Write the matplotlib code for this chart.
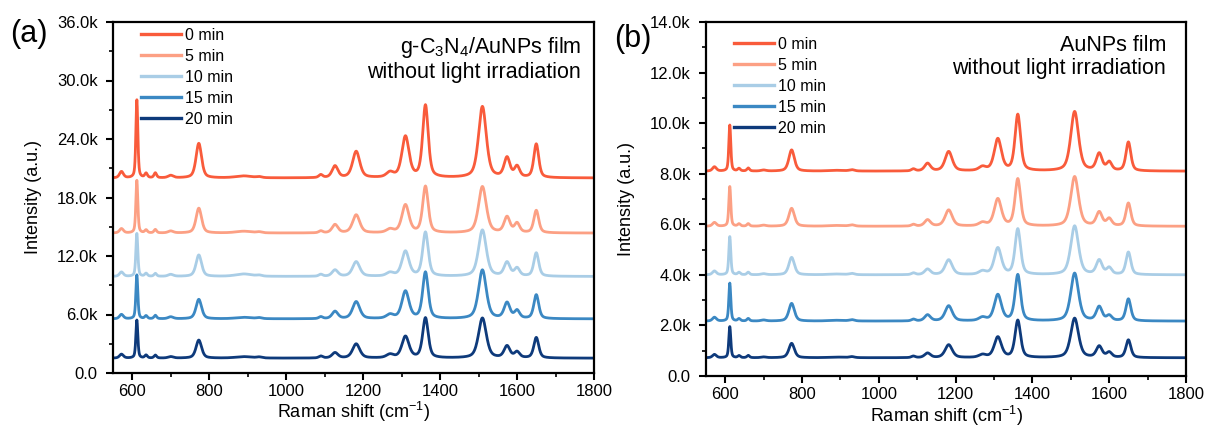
import numpy as np
import matplotlib
matplotlib.use("Agg")
import matplotlib.pyplot as plt
from matplotlib.ticker import MultipleLocator, FuncFormatter

plt.rcParams['font.family'] = ['Liberation Sans', 'DejaVu Sans']
plt.rcParams['mathtext.fontset'] = 'custom'
plt.rcParams['mathtext.rm'] = 'Liberation Sans'
plt.rcParams['mathtext.it'] = 'Liberation Sans:italic'

# ---------------- data ----------------
labels = ["0 min", "5 min", "10 min", "15 min", "20 min"]
colors = ["#F95B3B", "#FCA084", "#A9CDE6", "#3B88C3", "#0E3A7B"]

# Raman band positions (cm-1) and half widths (cm-1)
peak_pos = [572, 612, 636, 660, 700, 773, 890, 930, 1090, 1127, 1182, 1270,
            1310, 1362, 1510, 1574, 1600, 1650]
peak_hw = [6, 3, 4, 4, 8, 8.5, 25, 8, 6, 9, 11, 11, 11, 8.5, 12, 9, 8, 7.5]

# panel (a): g-C3N4/AuNPs film, baselines and band heights (counts)
base_a = [20000, 14350, 9900, 5550, 1520]
height_a = [
    [650, 8000, 450, 500, 250, 3550, 200, 100, 300, 1200, 2700, 500, 4200, 7400, 7300, 2000, 1100, 3450],
    [450, 5400, 300, 350, 200, 2550, 180, 100, 200, 850, 1850, 350, 2850, 4750, 4750, 1600, 950, 2300],
    [450, 4400, 300, 300, 200, 2200, 250, 100, 200, 650, 1500, 350, 2550, 4500, 4750, 1400, 800, 2400],
    [450, 4500, 300, 350, 200, 2000, 150, 100, 200, 750, 1750, 400, 2800, 4750, 5000, 1600, 800, 2450],
    [400, 3900, 300, 300, 150, 1850, 150, 100, 200, 550, 1450, 350, 2200, 4100, 4100, 1200, 600, 2100],
]

# panel (b): AuNPs film
base_b = [8100, 5920, 4000, 2170, 720]
height_b = [
    [170, 1820, 100, 120, 40, 840, 30, 50, 80, 300, 770, 150, 1260, 2220, 2350, 670, 330, 1140],
    [150, 1570, 90, 100, 40, 710, 30, 50, 70, 250, 640, 130, 1070, 1860, 1960, 540, 280, 910],
    [150, 1510, 90, 100, 40, 690, 30, 50, 70, 220, 590, 130, 1050, 1800, 1930, 560, 260, 890],
    [150, 1500, 90, 100, 40, 700, 30, 50, 70, 240, 600, 130, 1030, 1820, 1890, 550, 200, 870],
    [130, 1230, 80, 90, 30, 570, 25, 40, 60, 180, 510, 110, 810, 1470, 1560, 440, 200, 700],
]

xticks = [600, 800, 1000, 1200, 1400, 1600, 1800]


def spectrum(x, base, heights):
    y = np.full_like(x, float(base))
    for c, w, h in zip(peak_pos, peak_hw, heights):
        lor = 1.0 / (1.0 + ((x - c) / w) ** 2)
        gau = np.exp(-np.log(2) * ((x - c) / w) ** 2)
        y += h * (0.5 * lor + 0.5 * gau)
    return y


x = np.arange(550, 1801, 1.0)


def kfmt(v, pos):
    if abs(v) < 1e-9:
        return "0.0"
    return f"{v/1000:.1f}k"


fig = plt.figure(figsize=(12.09, 4.30), dpi=100)
W, H = 1209, 430


def make_axes(l, r, t, b):
    return fig.add_axes([l / W, 1 - b / H, (r - l) / W, (b - t) / H])


axA = make_axes(113, 594, 22, 373)
axB = make_axes(706, 1186, 22, 376)

panels = [
    (axA, base_a, height_a, 36000, 6000, "(a)",
     "g-C$_3$N$_4$/AuNPs film\nwithout light irradiation", 13, 6, -84, 12),
    (axB, base_b, height_b, 14000, 2000, "(b)",
     "AuNPs film\nwithout light irradiation", 20, 15, -73, 17),
]

for ax, bases, heights, ymax, ystep, tag, note, inset, legtop, tagx, tagy in panels:
    for lab, col, b0, hs in zip(labels, colors, bases, heights):
        ax.plot(x, spectrum(x, b0, hs), color=col, lw=2.0, label=lab)
    ax.set_xlim(550, 1800)
    ax.set_ylim(0, ymax)
    ax.set_xticks(xticks)
    ax.xaxis.set_minor_locator(MultipleLocator(100))
    ax.yaxis.set_major_locator(MultipleLocator(ystep))
    ax.yaxis.set_minor_locator(MultipleLocator(ystep / 2))
    ax.yaxis.set_major_formatter(FuncFormatter(kfmt))
    ax.tick_params(which='major', direction='out', length=5, width=1.5,
                   labelsize=12)
    ax.tick_params(axis='x', which='major', pad=3)
    ax.tick_params(axis='y', which='major', pad=6)
    ax.tick_params(which='minor', direction='out', length=3, width=1.2)
    ax.tick_params(top=False, right=False)
    for s in ax.spines.values():
        s.set_linewidth(1.6)
    ax.set_xlabel("Raman shift (cm$^{-1}$)", fontsize=13)
    ax.set_ylabel("Intensity (a.u.)", fontsize=13)
    ax.xaxis.set_label_coords(0.5, -0.078)
    ax.yaxis.set_label_coords(-0.148, 0.5)
    wpx = ax.get_position().width * W
    hpx = ax.get_position().height * H
    leg = ax.legend(loc='upper left', bbox_to_anchor=(28 / wpx, 1 - legtop / hpx),
                    frameon=False, fontsize=11.5, handlelength=2.5,
                    handletextpad=0.25, labelspacing=0.37, borderpad=0,
                    borderaxespad=0)
    for ln in leg.get_lines():
        ln.set_linewidth(2.4)
    ax.text(1 - inset / wpx, 1 - 13 / hpx, note, transform=ax.transAxes,
            ha='right', va='top', fontsize=15.5, linespacing=1.15)
    ax.text(tagx / wpx, 1 - tagy / hpx, tag,
            transform=ax.transAxes, ha='center', va='center', fontsize=22)

fig.savefig("out.png", dpi=100)
